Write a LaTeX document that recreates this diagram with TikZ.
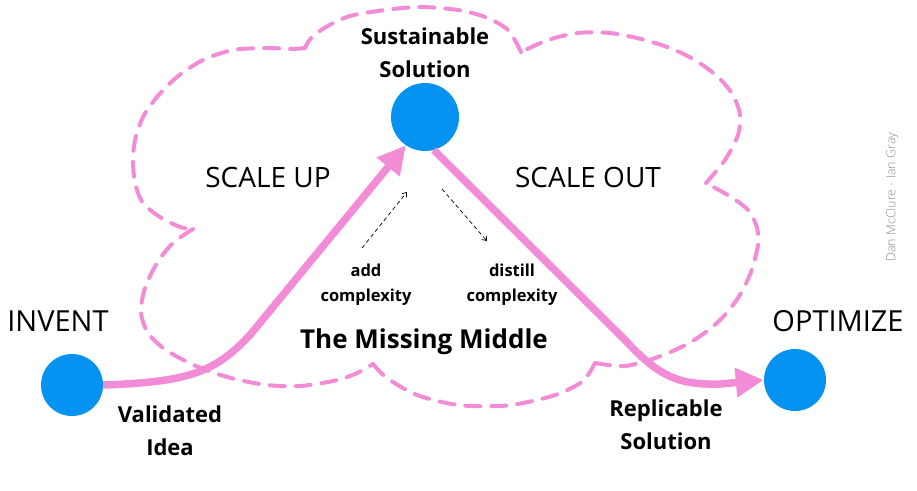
\documentclass[tikz,border=0pt]{standalone}
\usepackage{fontspec}
\setmainfont{Open Sans}
\newfontfamily\oslight{Open Sans Light}
\newcommand\ossemi{\bfseries}
\usetikzlibrary{arrows.meta}
\definecolor{pinkc}{RGB}{243,140,214}
\definecolor{dotblue}{RGB}{6,146,240}
\definecolor{credit}{RGB}{140,140,140}
\tikzset{
  dot/.style={circle, fill=dotblue, minimum size=62pt, inner sep=0pt},
  bigdot/.style={dot, minimum size=68pt},
  cloudline/.style={pinkc, line width=4pt, dash pattern=on 15pt off 11pt, line cap=round},
  flow/.style={pinkc, line width=7.5pt, -{Triangle[length=28pt,width=28pt]}},
  hint/.style={black, line width=0.7pt, dash pattern=on 4pt off 3pt, -{Straight Barb[length=4pt,width=6pt]}},
  stagetxt/.style={font=\fontsize{29}{32}\selectfont},
  scaletxt/.style={font=\fontsize{28}{32}\selectfont},
  lbl/.style={font=\ossemi\fontsize{22}{33}\selectfont, align=center},
  midtxt/.style={font=\ossemi\fontsize{26}{30}\selectfont},
  smalltxt/.style={font=\ossemi\fontsize{16.5}{25}\selectfont, align=center},
}
\begin{document}
\begin{tikzpicture}[x=1pt,y=-1pt]
\useasboundingbox (0,0) rectangle (917,490);
% cloud
\draw[cloudline] plot[smooth] coordinates {(305,48) (290,49) (267,48) (233,50) (203,60) (177,77) (157,97) (143,117) (135,140) (133,160) (135,183) (143,203) (160,217) (180,227) (193,229)};
\draw[cloudline] plot[smooth] coordinates {(193,229) (173,243) (157,263) (145,288) (141,312) (148,333) (166,350) (196,366) (231,378) (267,385) (300,386) (333,381) (355,374) (373,364)};
\draw[cloudline] plot[smooth] coordinates {(373,364) (387,378) (417,395) (458,405) (500,406) (528,402) (558,394) (583,381) (595,363)};
\draw[cloudline] plot[smooth] coordinates {(595,363) (625,366) (658,357) (691,342) (718,322) (738,298) (751,272) (758,245) (757,228) (749,211) (731,197) (706,183)};
\draw[cloudline] plot[smooth] coordinates {(706,183) (725,160) (738,135) (740,115) (733,95) (718,77) (698,62) (675,50) (645,40) (610,33) (578,33) (548,40) (521,52)};
\draw[cloudline] plot[smooth] coordinates {(521,52) (508,30) (485,17) (458,10) (420,7) (385,10) (350,16) (326,27) (311,38) (305,48)};
% dots
\node[dot] (inv) at (72,385) {};
\node[bigdot] (sus) at (425,117) {};
\node[dot] (opt) at (795,380) {};
% flows
\draw[flow] (inv.east) .. controls (190,382) and (215,372) .. (250,335) -- (sus.236);
\draw[flow] (sus.-75) -- (625,340) .. controls (660,378) and (680,385) .. (720,384) -- (opt.west);
% hints
\coordinate (h1s) at (362,248);
\coordinate (h1e) at (407,192);
\coordinate (h2s) at (442,189);
\coordinate (h2e) at (487,241);
\draw[hint] (h1s) -- (h1e);
\draw[hint] (h2s) -- (h2e);
% texts
\node[lbl] (tsus) at (425,53) {Sustainable\\Solution};
\node[scaletxt] (tup) at (268,177) {SCALE UP};
\node[scaletxt] (tout) at (588,177) {SCALE OUT};
\node[stagetxt] (tinv) at (58,321) {INVENT};
\node[stagetxt] (topt) at (838,321) {OPTIMIZE};
\node[midtxt] (tmid) at (424,342) {The Missing Middle};
\node[smalltxt] (tadd) at (366,285) {add\\complexity};
\node[smalltxt] (tdis) at (512,285) {distill\\complexity};
\node[lbl] (tval) at (170,431) {Validated\\Idea};
\node[lbl] (trep) at (666,425) {Replicable\\Solution};
\node[rotate=90, text=credit, font=\oslight\fontsize{12.5}{14}\selectfont] (cred) at (892,197) {Dan McClure - Ian Gray};
\end{tikzpicture}
\end{document}
